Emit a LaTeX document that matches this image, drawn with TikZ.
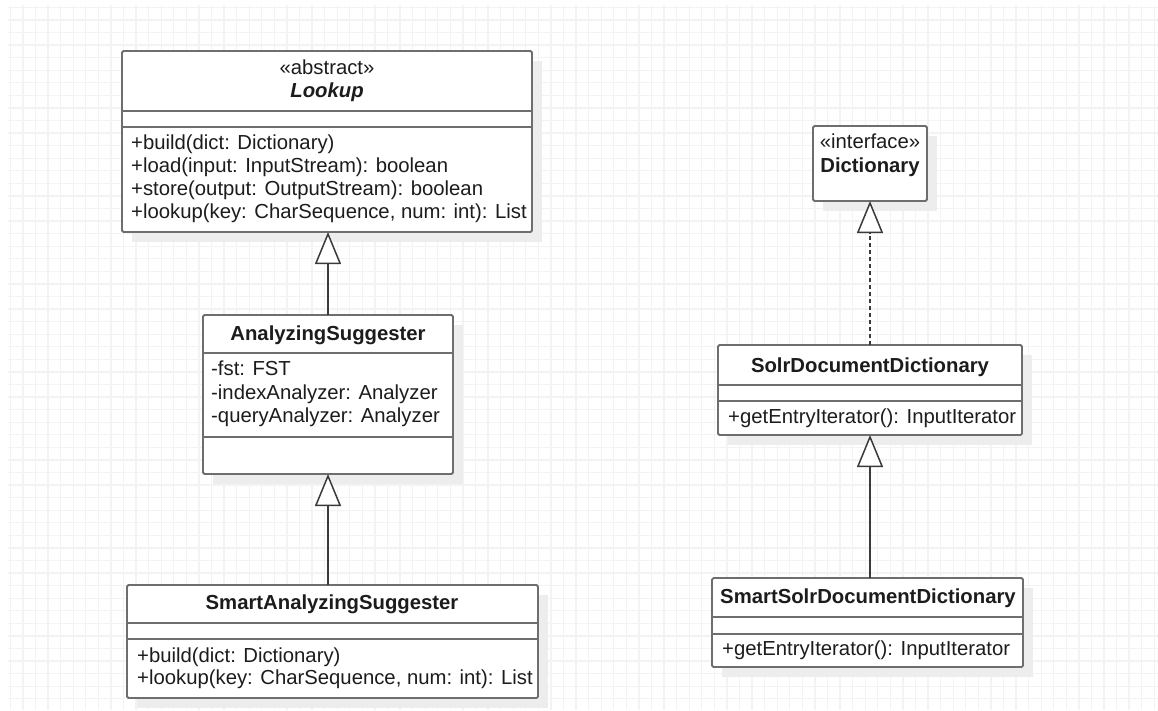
\documentclass[tikz,border=0pt]{standalone}
\usepackage{fontspec}
\setmainfont{Liberation Sans}
\usetikzlibrary{arrows.meta}
\definecolor{gridc}{HTML}{F3F3F3}
\definecolor{boxc}{HTML}{6E6E6E}
\definecolor{linec}{HTML}{3A3A3A}
\definecolor{shadc}{HTML}{EDEDED}
\definecolor{txtc}{HTML}{1C1C1C}
\newcommand{\umlcls}[5]{%
  \node[shadowbox, minimum width=#4pt, minimum height=#5pt] (#1-sh) at (#2+10,#3+10) {};
  \node[umlbox, minimum width=#4pt, minimum height=#5pt] (#1) at (#2,#3) {};}
\newcommand{\umldiv}[2]{\draw[divider] (#1.west |- 0,#2) -- (#1.east |- 0,#2);}
\begin{document}
\begin{tikzpicture}[x=1pt,y=-1pt,
  umlbox/.style={draw=boxc, line width=1.8pt, fill=white, rounded corners=1.5pt, inner sep=0pt, outer sep=0pt, anchor=north west},
  shadowbox/.style={fill=shadc, draw=none, inner sep=0pt, outer sep=0pt, anchor=north west},
  divider/.style={draw=boxc, line width=1.8pt},
  txt/.style={font=\fontsize{20.3}{23}\selectfont, text=txtc, inner sep=0pt, text height=14pt, text depth=3pt},
  memb/.style={txt, anchor=west},
  gen/.style={draw=linec, line width=1.5pt, -{Triangle[length=32pt, width=26pt, fill=white]}},
  real/.style={gen, dash pattern=on 4pt off 3pt}]
\useasboundingbox (0,0) rectangle (1158,710);
\fill[white] (0,0) rectangle (1158,710);
% grid
\foreach \k in {0,...,91} \draw[gridc, line width=1.3pt] (10.4+12.57*\k,5) -- (10.4+12.57*\k,710);
\foreach \k in {0,...,55} \draw[gridc, line width=1.3pt] (8,7.4+12.57*\k) -- (1158,7.4+12.57*\k);

% Lookup
\umlcls{lookup}{122}{51}{410}{181}
\umldiv{lookup}{111}
\umldiv{lookup}{127}
\node[txt] (lookup-st) at (327,69) {«abstract»};
\node[txt] (lookup-t) at (327,92) {\textbf{\textit{Lookup}}};
\node[memb] (lookup-m1) at (131,144) {+build(dict: Dictionary)};
\node[memb] (lookup-m2) at (131,167) {+load(input: InputStream): boolean};
\node[memb] (lookup-m3) at (131,190) {+store(output: OutputStream): boolean};
\node[memb] (lookup-m4) at (131,213) {+lookup(key: CharSequence, num: int): List};

% AnalyzingSuggester
\umlcls{as}{203}{315}{250}{159}
\umldiv{as}{353}
\umldiv{as}{437}
\node[txt] (as-t) at (328,335) {\textbf{AnalyzingSuggester}};
\node[memb] (as-a1) at (211,370) {-fst: FST};
\node[memb] (as-a2) at (211,394) {-indexAnalyzer: Analyzer};
\node[memb] (as-a3) at (211,417) {-queryAnalyzer: Analyzer};

% SmartAnalyzingSuggester
\umlcls{sas}{127}{585}{411}{113}
\umldiv{sas}{623}
\umldiv{sas}{639}
\node[txt] (sas-t) at (332,604) {\textbf{SmartAnalyzingSuggester}};
\node[memb] (sas-m1) at (137,657) {+build(dict: Dictionary)};
\node[memb] (sas-m2) at (137,679) {+lookup(key: CharSequence, num: int): List};

% Dictionary
\umlcls{dict}{813}{126}{114}{75}
\node[txt] (dict-st) at (870,143) {«interface»};
\node[txt] (dict-t) at (870,167) {\textbf{Dictionary}};

% SolrDocumentDictionary
\umlcls{sdd}{718}{345}{304}{90}
\umldiv{sdd}{385}
\umldiv{sdd}{401}
\node[txt] (sdd-t) at (870,367) {\textbf{SolrDocumentDictionary}};
\node[memb] (sdd-m1) at (728,418) {+getEntryIterator(): InputIterator};

% SmartSolrDocumentDictionary
\umlcls{ssdd}{712}{578}{311}{89}
\umldiv{ssdd}{617}
\umldiv{ssdd}{634}
\node[txt] (ssdd-t) at (868,598) {\textbf{SmartSolrDocumentDictionary}};
\node[memb] (ssdd-m1) at (722,650) {+getEntryIterator(): InputIterator};

% connectors
\draw[gen] (as.north) -- (as.north |- lookup.south);
\draw[gen] (sas.north -| as.south) -- (as.south);
\draw[real] (sdd.north) -- (sdd.north |- dict.south);
\draw[gen] (ssdd.north -| sdd.south) -- (sdd.south);
\end{tikzpicture}
\end{document}
